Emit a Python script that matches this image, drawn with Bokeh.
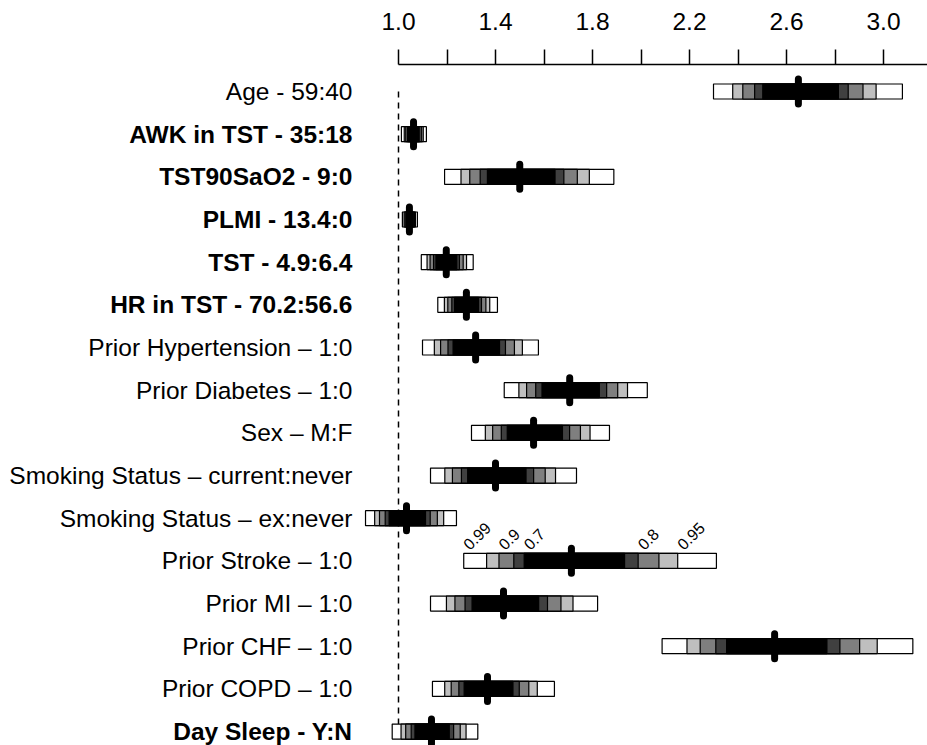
import math
from statistics import NormalDist
from bokeh.plotting import figure
from bokeh.models import Range1d, LinearAxis, FixedTicker, PrintfTickFormatter, ColumnDataSource
from bokeh.embed import file_html
from bokeh.resources import INLINE
from bokeh.core.properties import value

# ---------------- data ----------------
labels = [
    "Age - 59:40",
    "AWK in TST - 35:18",
    "TST90SaO2 - 9:0",
    "PLMI - 13.4:0",
    "TST - 4.9:6.4",
    "HR in TST - 70.2:56.6",
    "Prior Hypertension \u2013 1:0",
    "Prior Diabetes \u2013 1:0",
    "Sex \u2013 M:F",
    "Smoking Status \u2013 current:never",
    "Smoking Status \u2013 ex:never",
    "Prior Stroke \u2013 1:0",
    "Prior MI \u2013 1:0",
    "Prior CHF \u2013 1:0",
    "Prior COPD \u2013 1:0",
    "Day Sleep - Y:N",
]
bold = [False, True, True, True, True, True, False, False, False, False,
        False, False, False, False, False, True]
estimate = [2.649, 1.062, 1.500, 1.045, 1.197, 1.280, 1.318, 1.706,
            1.557, 1.400, 1.033, 1.713, 1.433, 2.551, 1.367, 1.136]
lower99 = [2.299, 1.012, 1.190, 1.016, 1.094, 1.162, 1.099, 1.436,
           1.301, 1.132, 0.864, 1.269, 1.132, 2.087, 1.140, 0.974]
upper99 = [3.078, 1.115, 1.888, 1.078, 1.308, 1.408, 1.577, 2.026,
           1.870, 1.734, 1.239, 2.311, 1.821, 3.121, 1.643, 1.327]

conf_levels = [0.99, 0.95, 0.9, 0.8, 0.7]
conf_fills = ["#FFFFFF", "#BFBFBF", "#7F7F7F", "#404040", "#000000"]

major_ticks = [1.0, 1.4, 1.8, 2.2, 2.6, 3.0]
minor_ticks = [1.2, 1.6, 2.0, 2.4, 2.8, 3.2]
null_value = 1.0

key_row = "Prior Stroke \u2013 1:0"
key_levels = [0.99, 0.9, 0.7, 0.8, 0.95]
key_sides = ["lower", "lower", "lower", "upper", "upper"]

# ---------------- layout constants ----------------
W, H = 927, 745
TOP = 64                 # axis line position (px)
X0_PX = 398              # pixel of null value
PX_PER_UNIT = 242.5
ROW0_PX = 91             # first row center (px)
ROW_PX = 42.67           # row spacing (px)
FONT = "Liberation Sans"

n = len(labels)
rows = list(range(1, n + 1))
frame_h = H - TOP
x_start = null_value - X0_PX / PX_PER_UNIT
x_end = null_value + (W - X0_PX) / PX_PER_UNIT
y_top = 1 - (ROW0_PX - TOP) / ROW_PX
y_bot = y_top + frame_h / ROW_PX

p = figure(width=W, height=H, frame_width=W, frame_height=frame_h,
           x_range=Range1d(x_start, x_end), y_range=Range1d(y_bot, y_top),
           x_axis_location=None, y_axis_location=None,
           toolbar_location=None, output_backend="svg",
           min_border_left=0, min_border_right=0, min_border_bottom=0,
           min_border_top=TOP)
p.outline_line_color = None
p.xgrid.grid_line_color = None
p.ygrid.grid_line_color = None
p.background_fill_color = "white"
p.border_fill_color = "white"

# top axis
ax = LinearAxis(ticker=FixedTicker(ticks=major_ticks, minor_ticks=minor_ticks),
                formatter=PrintfTickFormatter(format="%.1f"))
ax.bounds = (major_ticks[0], minor_ticks[-1])
ax.axis_line_width = 1.5
ax.axis_line_color = "black"
ax.major_tick_in = 0
ax.major_tick_out = 15
ax.minor_tick_in = 0
ax.minor_tick_out = 15
ax.major_tick_line_width = 1.5
ax.minor_tick_line_width = 1.5
ax.major_tick_line_color = "black"
ax.minor_tick_line_color = "black"
ax.major_label_standoff = 20
ax.major_label_text_font = FONT
ax.major_label_text_font_size = "24.5px"
ax.major_label_text_color = "black"
p.add_layout(ax, "above")

# dashed null line
p.segment(x0=[null_value], y0=[rows[0]], x1=[null_value], y1=[rows[-1]],
          line_color="black", line_width=1.5, line_dash="6 5")

# confidence bars
z99 = NormalDist().inv_cdf((1 + 0.99) / 2)
half_h = 7.5 / ROW_PX


def bounds(i, q):
    z = NormalDist().inv_cdf((1 + q) / 2)
    le = math.log(estimate[i])
    lo = math.exp(le - (le - math.log(lower99[i])) * z / z99)
    hi = math.exp(le + (math.log(upper99[i]) - le) * z / z99)
    return lo, hi


for q, col in zip(conf_levels, conf_fills):
    lefts, rights = [], []
    for i in range(n):
        lo, hi = bounds(i, q)
        lefts.append(lo)
        rights.append(hi)
    src = ColumnDataSource(dict(left=lefts, right=rights,
                                top=[r - half_h for r in rows],
                                bottom=[r + half_h for r in rows]))
    p.quad(left="left", right="right", top="top", bottom="bottom", source=src,
           fill_color=col, line_color="black", line_width=1.2)

# point estimates
est_h = 12.5 / ROW_PX
p.segment(x0=estimate, y0=[r - est_h for r in rows], x1=estimate,
          y1=[r + est_h for r in rows], line_color="black", line_width=7,
          line_cap="round")

# row labels
lab_src = ColumnDataSource(dict(x=[null_value] * n, y=rows, text=labels,
                                style=["bold" if b else "normal" for b in bold]))
p.text(x="x", y="y", text="text", source=lab_src, x_offset=-46,
       text_align="right", text_baseline="middle",
       text_font=value(FONT), text_font_size="24.5px",
       text_font_style="style", text_color="black")

# confidence-level key on one bar
ki = labels.index(key_row)
kx = []
for q, side in zip(key_levels, key_sides):
    lo, hi = bounds(ki, q)
    kx.append(lo if side == "lower" else hi)
ky = [rows[ki] - 14 / ROW_PX] * len(kx)
p.text(x=kx, y=ky, text=[f"{q:g}" for q in key_levels], x_offset=2,
       angle=45, angle_units="deg", text_align="left",
       text_baseline="alphabetic", text_font=value(FONT),
       text_font_size="16px", text_color="black")

open("out.html", "w").write(file_html(p, INLINE))
